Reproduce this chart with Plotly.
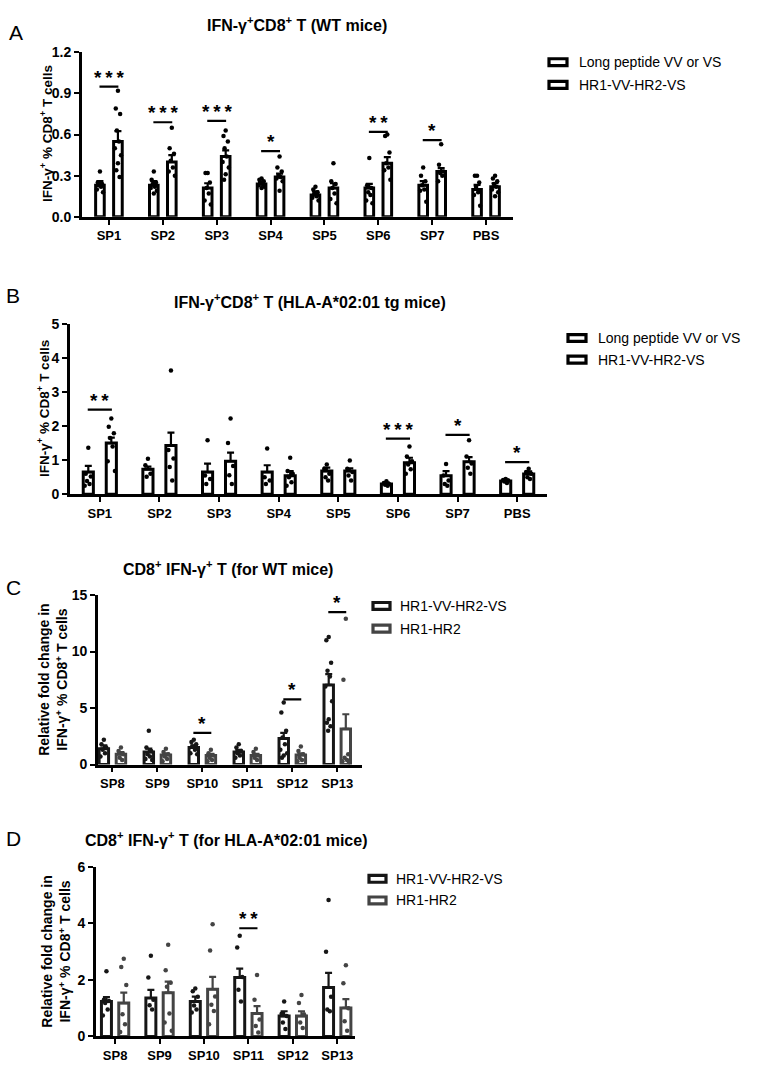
import plotly.graph_objects as go

W, H = 760, 1071
FONT = "Liberation Sans, Arial, sans-serif"

# ---------------- DATA ----------------
cats_AB = ["SP1", "SP2", "SP3", "SP4", "SP5", "SP6", "SP7", "PBS"]
cats_CD = ["SP8", "SP9", "SP10", "SP11", "SP12", "SP13"]

legend_AB = ["Long peptide VV or VS", "HR1-VV-HR2-VS"]
legend_CD = ["HR1-VV-HR2-VS", "HR1-HR2"]

# Panel A (WT mice)
A_s1_mean = [0.23, 0.23, 0.21, 0.24, 0.16, 0.21, 0.23, 0.20]
A_s1_sem = [0.03, 0.03, 0.035, 0.017, 0.025, 0.03, 0.03, 0.033]
A_s2_mean = [0.55, 0.40, 0.44, 0.29, 0.21, 0.39, 0.33, 0.22]
A_s2_sem = [0.075, 0.05, 0.045, 0.025, 0.035, 0.045, 0.025, 0.025]
A_s1_pts = [
    [0.33, 0.25, 0.24, 0.23, 0.22, 0.20, 0.18],
    [0.33, 0.27, 0.25, 0.24, 0.22, 0.21, 0.19, 0.17],
    [0.32, 0.32, 0.25, 0.21, 0.17, 0.12, 0.09],
    [0.28, 0.27, 0.26, 0.25, 0.24, 0.23, 0.22, 0.21],
    [0.22, 0.20, 0.18, 0.17, 0.15, 0.14, 0.12],
    [0.43, 0.23, 0.21, 0.18, 0.16, 0.12, 0.10],
    [0.36, 0.30, 0.26, 0.23, 0.20, 0.19, 0.11],
    [0.30, 0.30, 0.25, 0.22, 0.18, 0.16, 0.08],
]
A_s2_pts = [
    [0.92, 0.79, 0.75, 0.63, 0.55, 0.50, 0.45, 0.39, 0.34, 0.29],
    [0.65, 0.50, 0.46, 0.41, 0.36, 0.33, 0.30],
    [0.63, 0.59, 0.55, 0.50, 0.44, 0.40, 0.36, 0.31, 0.27],
    [0.44, 0.36, 0.33, 0.30, 0.29, 0.28, 0.26, 0.19],
    [0.39, 0.26, 0.24, 0.21, 0.17, 0.13, 0.10],
    [0.60, 0.59, 0.47, 0.39, 0.36, 0.34, 0.27],
    [0.53, 0.38, 0.33, 0.32, 0.30, 0.26],
    [0.30, 0.28, 0.26, 0.24, 0.22, 0.20, 0.18, 0.15],
]
A_sig = [(0, 0.95, "***"), (1, 0.69, "***"), (2, 0.70, "***"),
         (3, 0.48, "*"), (5, 0.62, "**"), (6, 0.56, "*")]

# Panel B (HLA-A*02:01 tg mice)
B_s1_mean = [0.65, 0.73, 0.65, 0.65, 0.68, 0.30, 0.54, 0.39]
B_s1_sem = [0.18, 0.08, 0.25, 0.20, 0.10, 0.04, 0.14, 0.04]
B_s2_mean = [1.50, 1.43, 0.97, 0.54, 0.68, 0.92, 0.95, 0.59]
B_s2_sem = [0.16, 0.38, 0.25, 0.14, 0.08, 0.15, 0.14, 0.08]
B_s1_pts = [
    [1.36, 0.60, 0.52, 0.39, 0.30, 0.25],
    [1.04, 0.85, 0.60, 0.51],
    [1.58, 0.55, 0.45, 0.30],
    [1.34, 0.50, 0.40, 0.30],
    [0.87, 0.75, 0.60, 0.50, 0.40],
    [0.38, 0.33, 0.30, 0.28, 0.25],
    [0.89, 0.55, 0.40, 0.30, 0.25],
    [0.45, 0.42, 0.40, 0.37, 0.33],
]
B_s2_pts = [
    [2.22, 1.98, 1.79, 1.65, 1.40, 0.97, 0.68],
    [3.63, 1.30, 1.05, 0.80, 0.40],
    [2.22, 1.50, 0.83, 0.56, 0.30],
    [1.07, 0.68, 0.60, 0.50, 0.35, 0.25],
    [0.99, 0.75, 0.65, 0.55, 0.40],
    [1.40, 1.11, 0.97, 0.87, 0.73, 0.60],
    [1.58, 1.11, 0.90, 0.78, 0.60],
    [0.75, 0.65, 0.60, 0.50, 0.45],
]
B_sig = [(0, 2.48, "**"), (5, 1.63, "***"), (6, 1.74, "*"), (7, 0.94, "*")]

# Panel C (WT mice, fold change)
C_s1_mean = [1.40, 1.10, 1.50, 1.10, 2.30, 7.05]
C_s1_sem = [0.30, 0.30, 0.20, 0.20, 0.50, 0.95]
C_s2_mean = [0.90, 0.85, 0.80, 0.80, 0.85, 3.15]
C_s2_sem = [0.20, 0.15, 0.15, 0.15, 0.15, 1.30]
C_s1_pts = [
    [2.2, 1.8, 1.5, 1.3, 1.0, 0.7],
    [3.0, 1.5, 1.2, 0.9, 0.7, 0.5, 0.4],
    [2.2, 2.0, 1.8, 1.6, 1.3, 1.0, 0.9],
    [1.8, 1.5, 1.2, 1.0, 0.8, 0.6],
    [5.5, 4.6, 3.0, 2.4, 1.8, 1.3, 1.0, 0.8, 0.6],
    [11.3, 11.0, 9.0, 8.3, 7.8, 6.9, 5.6, 4.0, 3.7, 3.4, 3.0],
]
C_s2_pts = [
    [1.5, 1.2, 0.9, 0.6, 0.4],
    [1.4, 1.1, 0.9, 0.7, 0.5, 0.3],
    [1.3, 1.0, 0.8, 0.6, 0.4, 0.3],
    [1.4, 1.1, 0.8, 0.6, 0.4],
    [1.6, 1.2, 0.9, 0.6, 0.4, 0.3],
    [12.9, 7.5, 0.9, 0.6, 0.4, 0.3, 0.2],
]
C_sig = [(2, 2.8, "*"), (4, 5.77, "*"), (5, 13.5, "*")]

# Panel D (HLA-A*02:01 mice, fold change)
D_s1_mean = [1.24, 1.36, 1.24, 2.09, 0.72, 1.73]
D_s1_sem = [0.15, 0.29, 0.17, 0.31, 0.17, 0.52]
D_s2_mean = [1.18, 1.55, 1.67, 0.81, 0.72, 1.01]
D_s2_sem = [0.37, 0.39, 0.44, 0.26, 0.17, 0.31]
D_s1_pts = [
    [2.31, 1.30, 1.25, 1.18, 0.95, 0.74],
    [2.86, 2.09, 1.30, 1.10, 0.95],
    [1.70, 1.60, 1.40, 1.09, 0.95, 0.85],
    [3.56, 3.15, 2.10, 1.65, 1.24],
    [1.24, 0.80, 0.72, 0.49, 0.26],
    [4.83, 3.00, 1.40, 0.95, 0.89],
]
D_s2_pts = [
    [2.75, 2.46, 1.82, 0.78, 0.43, 0.16],
    [3.25, 2.34, 1.90, 1.76, 0.81, 0.49, 0.20],
    [3.97, 3.04, 1.41, 1.12, 0.90, 0.43],
    [2.17, 1.30, 0.60, 0.37, 0.14],
    [1.47, 1.18, 0.78, 0.49, 0.30],
    [2.52, 1.88, 1.00, 0.54, 0.20],
]
D_sig = [(3, 3.83, "**")]


# ---------------- HELPERS ----------------
def PX(x):
    return x / W


def PY(y):
    return 1 - y / H


fig = go.Figure()
shapes = []
annotations = []

JIT = [0, -0.6, 0.6, -0.3, 0.3, -0.85, 0.85, 0.0, -0.45, 0.45, -0.15, 0.15]


def add_panel(k, cats, s1m, s1e, s2m, s2e, s1p, s2p, sig, slot, bw,
              colors, yr, ytv, yttext, xdom, ydom, xr):
    xa = "x" if k == 1 else f"x{k}"
    ya = "y" if k == 1 else f"y{k}"
    idx = list(range(len(cats)))
    series = [(s1m, s1e, s1p, -slot / 2, colors[0]), (s2m, s2e, s2p, slot / 2, colors[1])]
    for m, e, pts, off, col in series:
        fig.add_trace(go.Bar(
            x=idx, y=m, width=bw, offset=off - bw / 2,
            marker=dict(color="white", line=dict(color=col, width=3)),
            xaxis=xa, yaxis=ya, showlegend=False, hoverinfo="skip"))
        fig.add_trace(go.Scatter(
            x=[i + off for i in idx], y=m, mode="markers",
            marker=dict(size=1, color="rgba(0,0,0,0)"),
            error_y=dict(type="data", symmetric=False, array=e,
                         arrayminus=[0] * len(e), color=col,
                         thickness=2.2, width=3.5),
            xaxis=xa, yaxis=ya, showlegend=False, hoverinfo="skip",
            cliponaxis=False))
        xs, ys = [], []
        for i, grp in enumerate(pts):
            for j, v in enumerate(grp):
                xs.append(i + off + JIT[j % len(JIT)] * bw * 0.42)
                ys.append(v)
        fig.add_trace(go.Scatter(
            x=xs, y=ys, mode="markers",
            marker=dict(size=4.5, color="black" if col == "black" else col),
            xaxis=xa, yaxis=ya, showlegend=False, hoverinfo="skip",
            cliponaxis=False))
    for i, yv, lab in sig:
        L = slot * 1.05
        shapes.append(dict(type="line", xref=xa, yref=ya, x0=i - L / 2,
                           x1=i + L / 2, y0=yv, y1=yv,
                           line=dict(color="black", width=2.2)))
        annotations.append(dict(xref=xa, yref=ya, x=i, y=yv, yanchor="bottom",
                                text="\u2009".join(lab), showarrow=False,
                                font=dict(family=FONT, size=19, color="black",
                                          weight="bold"), yshift=-3))
    axcommon = dict(showline=True, linecolor="black", linewidth=2.8,
                    ticks="outside", ticklen=5, tickwidth=2.4,
                    tickcolor="black", showgrid=False, zeroline=False,
                    fixedrange=True)
    fig.update_layout(**{
        ("xaxis" if k == 1 else f"xaxis{k}"): dict(
            domain=[PX(xdom[0]), PX(xdom[1])], range=xr, anchor=ya,
            tickvals=idx, ticktext=cats,
            tickfont=dict(family=FONT, size=13, color="black", weight="bold"),
            **axcommon),
        ("yaxis" if k == 1 else f"yaxis{k}"): dict(
            domain=[PY(ydom[1]), PY(ydom[0])], range=yr, anchor=xa,
            tickvals=ytv, ticktext=yttext,
            tickfont=dict(family=FONT, size=14, color="black", weight="bold"),
            **axcommon),
    })


add_panel(1, cats_AB, A_s1_mean, A_s1_sem, A_s2_mean, A_s2_sem, A_s1_pts, A_s2_pts,
          A_sig, 0.334, 0.16, ["black", "black"], [0, 1.2],
          [0, 0.3, 0.6, 0.9, 1.2], ["0.0", "0.3", "0.6", "0.9", "1.2"],
          (82, 513), (45, 212), [-0.5, 7.5])
add_panel(2, cats_AB, B_s1_mean, B_s1_sem, B_s2_mean, B_s2_sem, B_s1_pts, B_s2_pts,
          B_sig, 0.386, 0.17, ["black", "black"], [0, 5],
          [0, 1, 2, 3, 4, 5], ["0", "1", "2", "3", "4", "5"],
          (70, 547), (320.6, 493.6), [-0.5, 7.5])
add_panel(3, cats_CD, C_s1_mean, C_s1_sem, C_s2_mean, C_s2_sem, C_s1_pts, C_s2_pts,
          C_sig, 0.38, 0.21, ["#161616", "#444444"], [0, 15],
          [0, 5, 10, 15], ["0", "5", "10", "15"],
          (98, 362), (596, 768), [-0.32, 5.55])
add_panel(4, cats_CD, D_s1_mean, D_s1_sem, D_s2_mean, D_s2_sem, D_s1_pts, D_s2_pts,
          D_sig, 0.39, 0.225, ["#161616", "#444444"], [0, 6],
          [0, 2, 4, 6], ["0", "2", "4", "6"],
          (96, 355), (872, 1044), [-0.43, 5.4])


def text(x, y, s, size, bold=False, angle=0, xanchor="center", yanchor="middle"):
    annotations.append(dict(xref="paper", yref="paper", x=PX(x), y=PY(y),
                            text=s, showarrow=False, textangle=angle,
                            xanchor=xanchor, yanchor=yanchor,
                            font=dict(family=FONT, size=size, color="black",
                                      weight="bold" if bold else "normal")))


# titles
text(297, 16, "IFN-γ<sup>+</sup>CD8<sup>+</sup> T (WT mice)", 16, True)
text(310, 297, "IFN-γ<sup>+</sup>CD8<sup>+</sup> T (HLA-A*02:01 tg mice)", 16, True)
text(228, 568, "CD8<sup>+</sup> IFN-γ<sup>+</sup> T (for WT mice)", 16, True)
text(226, 844, "CD8<sup>+</sup> IFN-γ<sup>+</sup> T (for HLA-A*02:01 mice)", 16, True)

# panel letters
text(16, 25, "A", 21)
text(13, 292, "B", 21)
text(13, 588, "C", 21)
text(13, 843, "D", 21)

# y-axis titles
text(46, 128, "IFN-γ<sup>+</sup> % CD8<sup>+</sup> T cells", 13.5, True, -90)
text(43, 407, "IFN-γ<sup>+</sup> % CD8<sup>+</sup> T cells", 13.5, True, -90)
text(53, 682, "Relative fold change in<br>IFN-γ<sup>+</sup> % CD8<sup>+</sup> T cells", 14, True, -90)
text(56, 958, "Relative fold change in<br>IFN-γ<sup>+</sup> % CD8<sup>+</sup> T cells", 14, True, -90)


# legends
def legend_item(x0, yc, w, h, col, label, tx):
    shapes.append(dict(type="rect", xref="paper", yref="paper",
                       x0=PX(x0), x1=PX(x0 + w), y0=PY(yc + h / 2), y1=PY(yc - h / 2),
                       line=dict(color=col, width=3.2), fillcolor="white"))
    text(tx, yc, label, 14, False, 0, "left")


legend_item(549, 55, 18, 7, "black", legend_AB[0], 577)
legend_item(549, 78, 18, 7, "black", legend_AB[1], 577)
legend_item(568, 335, 18, 7, "black", legend_AB[0], 596)
legend_item(568, 357, 18, 7, "black", legend_AB[1], 596)
legend_item(373, 607, 17, 7, "#161616", legend_CD[0], 398)
legend_item(373, 630, 17, 7, "#444444", legend_CD[1], 398)
legend_item(369, 884, 17, 7, "#161616", legend_CD[0], 394)
legend_item(369, 906, 17, 7, "#444444", legend_CD[1], 394)

fig.update_layout(width=W, height=H, margin=dict(l=0, r=0, t=0, b=0),
                  paper_bgcolor="white", plot_bgcolor="white",
                  barmode="overlay", showlegend=False,
                  shapes=shapes, annotations=annotations,
                  font=dict(family=FONT, color="black"))

fig.write_html("out.html")
